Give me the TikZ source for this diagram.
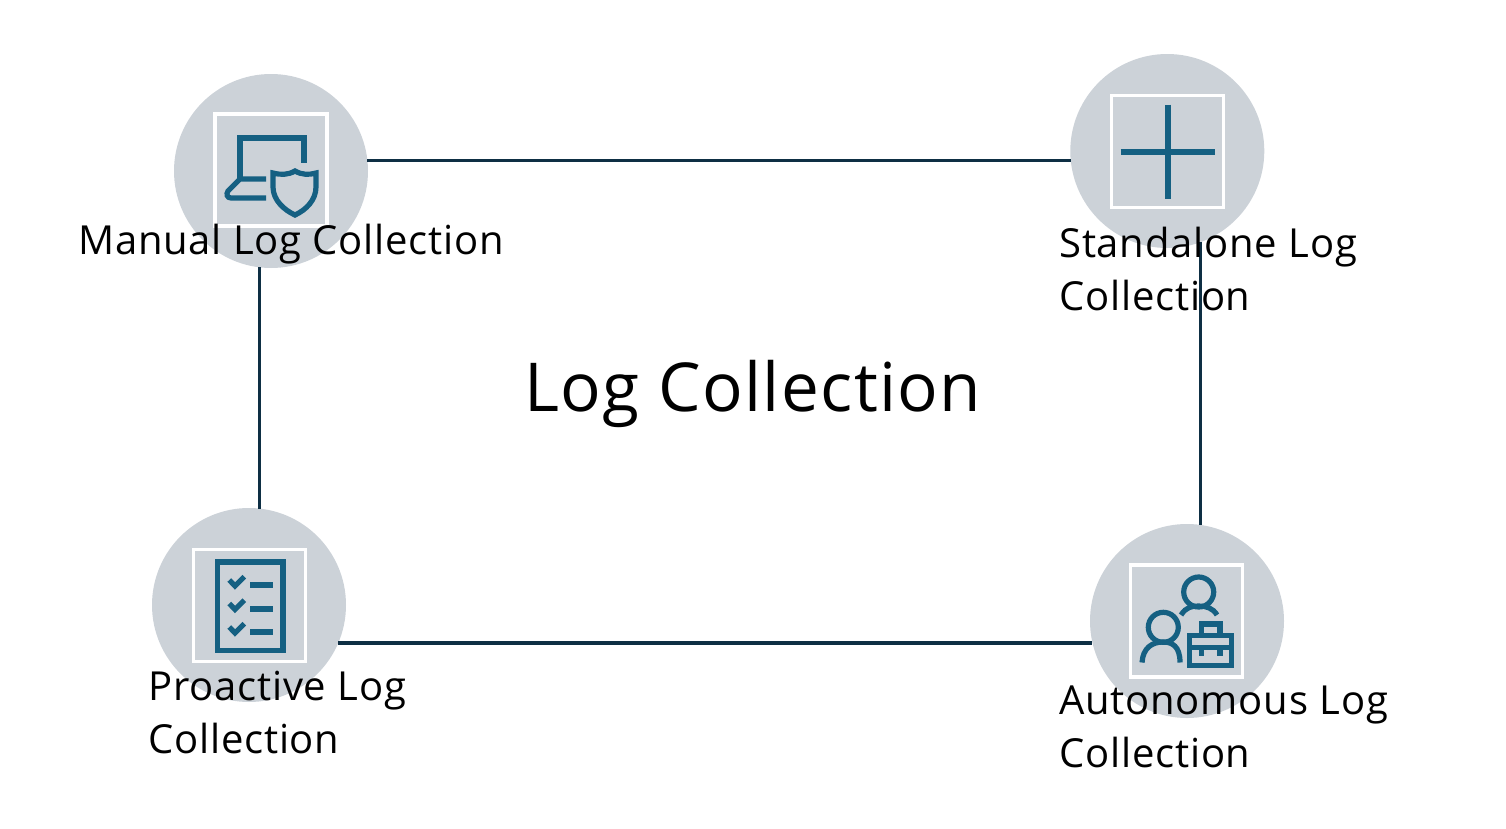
\documentclass[tikz,border=0pt]{standalone}
\usepackage{fontspec}
\setmainfont[LetterSpace=2.0]{Open Sans}
\usetikzlibrary{positioning}
\definecolor{discFill}{HTML}{CCD2D8}
\definecolor{iconBlue}{HTML}{156082}
\definecolor{linkNavy}{HTML}{0E2F44}

\begin{document}
\begin{tikzpicture}[
  x=0.75pt, y=-0.75pt,
  disc/.style={circle, fill=discFill, minimum size=145.5pt, inner sep=0pt, outer sep=0pt},
  frame/.style={rectangle, draw=white, line width=2.4pt, minimum size=84pt, inner sep=0pt},
  link/.style={line width=2.4pt, linkNavy},
  ico/.style={line width=3.9pt, iconBlue, line join=miter},
  lbl/.style={anchor=base west, align=left, inner sep=0pt, text=black,
              font=\fontsize{30pt}{39.75pt}\selectfont}
]
\useasboundingbox (0,0) rectangle (1506,828);
\node[disc] (manual) at (271,171) {};
\node[disc] (standalone) at (1167.3,151) {};
\node[disc] (proactive) at (249,605) {};
\node[disc] (autonomous) at (1187,621) {};
\node[frame] (manualbox) at (271,170) {};
\node[frame] (standalonebox) at (1167.5,151.5) {};
\node[frame] (proactivebox) at (249.5,605.5) {};
\node[frame] (autonomousbox) at (1186.8,621) {};
\draw[link] (manual.6) -- (manual.6 -| standalone.185.6);
\draw[link] (manual.263.2) -- (manual.263.2 |- proactive.83.8);
\draw[link] (autonomous.82 |- standalone.290.2) -- (autonomous.82);
\draw[link] (proactive.-23.3) -- (proactive.-23.3 -| autonomous.192.5);
% manual icon
\draw[ico] (240,179) -- (240,138) -- (304,138) -- (304,163);
\draw[ico] (266,179) -- (240,179) -- (228,191) .. controls (226,194) and (227,198) .. (231,198) -- (266,198);
\draw[ico] (295,171) .. controls (288,175) and (281,175) .. (273,173) -- (273,187)
  .. controls (273,200) and (284,210) .. (295,215) .. controls (306,210) and (316,200) .. (316,187)
  -- (316,173) .. controls (309,175) and (302,175) .. (295,171) -- cycle;
% standalone icon
\draw[ico, line width=4.5pt] (1120.7,151.7) -- (1215.3,151.7);
\draw[ico, line width=4.5pt] (1168,104.7) -- (1168,199);
% proactive icon
\draw[ico, line width=4.2pt] (217.3,561.7) rectangle (282.7,650.3);
\foreach \yy in {0,23.5,47} {
  \draw[ico, line width=3.9pt] (229.3,580+\yy) -- (235,586+\yy) -- (244.3,576.7+\yy);
  \draw[ico, line width=4.4pt] (250,585.3+\yy) -- (273.3,585.3+\yy);
}
% autonomous icon
\draw[ico] (1198.7,592) circle[radius=15];
\draw[ico] (1163.3,627.3) circle[radius=15];
\draw[ico] (1181,615) .. controls (1186,607) and (1192,606) .. (1198.7,606) .. controls (1206,606) and (1213,608) .. (1217,615);
\draw[ico] (1142,662.5) .. controls (1143,648) and (1152,642) .. (1163,642) .. controls (1172,642) and (1180,646) .. (1180,662.5);
\draw[ico] (1189.3,635.7) rectangle (1231.7,665.7);
\draw[ico] (1201.7,635.7) -- (1201.7,624) -- (1220,624) -- (1220,635.7);
\draw[ico] (1189.3,647.7) -- (1231.7,647.7);
\draw[ico] (1201.7,647.7) -- (1201.7,656);
\draw[ico] (1220,647.7) -- (1220,656);
% labels
\node[lbl] (manuallbl) at (78,254) {Manual Log Collection};
\node[lbl] (standalonelbl) at (1059,310) {Standalone Log\\Collection};
\node[lbl] (proactivelbl) at (148,753) {Proactive Log\\Collection};
\node[lbl] (autonomouslbl) at (1059,767) {Autonomous Log\\Collection};
\node[lbl, font=\fontsize{50.6pt}{60pt}\selectfont] (title) at (524,411) {Log Collection};
\end{tikzpicture}
\end{document}
